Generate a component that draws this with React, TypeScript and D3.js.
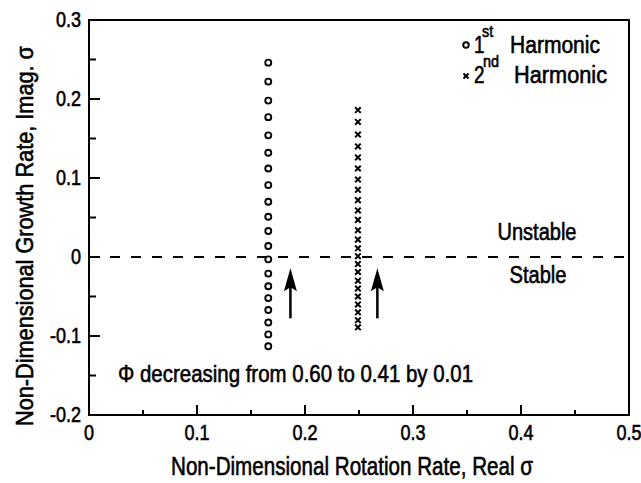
import React from 'react';
import * as d3 from 'd3';

// ---- data ----
const xTickValues = [0, 0.1, 0.2, 0.3, 0.4, 0.5];
const xTickLabels = ['0', '0.1', '0.2', '0.3', '0.4', '0.5'];
const xMinorTicks = [0.05, 0.15, 0.25, 0.35, 0.45];
const yTickValues = [0.3, 0.2, 0.1, 0, -0.1, -0.2];
const yTickLabels = ['0.3', '0.2', '0.1', '0', '-0.1', '-0.2'];
const yMinorTicks = [0.25, 0.15, 0.05, -0.05, -0.15];

const harmonic1Real = 0.166;
const harmonic1Imag = [
  0.246, 0.222, 0.198, 0.177, 0.154, 0.132, 0.112, 0.091, 0.07, 0.051,
  0.033, 0.014, -0.003, -0.021, -0.037, -0.052, -0.067, -0.083, -0.098, -0.113,
];
const harmonic2Real = 0.249;
const harmonic2Imag = [
  0.186, 0.171, 0.155, 0.14, 0.126, 0.112, 0.098, 0.085, 0.072, 0.059,
  0.047, 0.034, 0.022, 0.011, 0.001, -0.009, -0.019, -0.03, -0.04, -0.05,
  -0.06, -0.07, -0.08, -0.089,
];
const arrowReal = [0.1865, 0.267];
const arrowTail = -0.0776;
const arrowTip = -0.0143;

const legendLabels = ['1', 'st', 'Harmonic', '2', 'nd', 'Harmonic'];
const xTitle = 'Non-Dimensional Rotation Rate, Real \u03c3';
const yTitle = 'Non-Dimensional Growth Rate, Imag. \u03c3';
const note = '\u03a6 decreasing from 0.60 to 0.41 by 0.01';
const regionLabels = ['Unstable', 'Stable'];

const W = 641;
const H = 483;
const FONT = "'Liberation Sans', Arial, Helvetica, sans-serif";

export default function App() {
  const x = d3.scaleLinear().domain([0, 0.5]).range([89, 629]);
  const y = d3.scaleLinear().domain([-0.2, 0.3]).range([415, 20]);
  const textStyle = { fontFamily: FONT, fill: '#000', stroke: '#000', strokeWidth: 0.6 } as const;
  const sx = 0.82;

  const crossPath = (cx: number, cy: number, r: number) =>
    `M${cx - r},${cy - r}L${cx + r},${cy + r}M${cx - r},${cy + r}L${cx + r},${cy - r}`;

  return (
    <svg width={W} height={H} style={{ position: 'absolute', left: 0, top: 0, display: 'block', background: '#fff' }}>
      {/* frame */}
      <rect x={x(0)} y={y(0.3)} width={x(0.5) - x(0)} height={y(-0.2) - y(0.3)} fill="none" stroke="#000" strokeWidth={2} />

      {/* x ticks */}
      {xTickValues.map((v) => (
        <line key={'xt' + v} x1={x(v)} x2={x(v)} y1={y(-0.2)} y2={y(-0.2) - 10} stroke="#000" strokeWidth={2} />
      ))}
      {xMinorTicks.map((v) => (
        <line key={'xm' + v} x1={x(v)} x2={x(v)} y1={y(-0.2)} y2={y(-0.2) - 5} stroke="#000" strokeWidth={2} />
      ))}
      {xTickValues.map((v, i) => (
        <text key={'xl' + v} transform={`translate(${x(v)},440) scale(${sx},1)`} textAnchor="middle" fontSize={22} style={textStyle}>
          {xTickLabels[i]}
        </text>
      ))}

      {/* y ticks */}
      {yTickValues.map((v) => (
        <line key={'yt' + v} x1={x(0)} x2={x(0) + 11} y1={y(v)} y2={y(v)} stroke="#000" strokeWidth={2} />
      ))}
      {yMinorTicks.map((v) => (
        <line key={'ym' + v} x1={x(0)} x2={x(0) + 7} y1={y(v)} y2={y(v)} stroke="#000" strokeWidth={2} />
      ))}
      {yTickValues.map((v, i) => (
        <text key={'yl' + v} transform={`translate(81,${y(v) + 7}) scale(${sx},1)`} textAnchor="end" fontSize={22} style={textStyle}>
          {yTickLabels[i]}
        </text>
      ))}

      {/* axis titles */}
      <text x={352} y={475} textAnchor="middle" fontSize={26} textLength={362} lengthAdjust="spacingAndGlyphs" style={textStyle}>
        {xTitle}
      </text>
      <g transform={`translate(33,236) rotate(-90)`}>
        <text x={0} y={0} textAnchor="middle" fontSize={24} textLength={380} lengthAdjust="spacingAndGlyphs" style={textStyle}>
          {yTitle}
        </text>
      </g>

      {/* zero dashed line */}
      <line x1={x(0)} x2={x(0.5)} y1={y(0)} y2={y(0)} stroke="#000" strokeWidth={2.2} strokeDasharray="10 11" />

      {/* stability labels */}
      <text x={537} y={240} textAnchor="middle" fontSize={23.5} textLength={79} lengthAdjust="spacingAndGlyphs" style={textStyle}>
        {regionLabels[0]}
      </text>
      <text x={538} y={283} textAnchor="middle" fontSize={23.5} textLength={57} lengthAdjust="spacingAndGlyphs" style={textStyle}>
        {regionLabels[1]}
      </text>

      {/* 1st harmonic circles */}
      {harmonic1Imag.map((v, i) => (
        <circle key={'c' + i} cx={x(harmonic1Real)} cy={y(v)} r={3} fill="none" stroke="#000" strokeWidth={1.9} />
      ))}
      {/* 2nd harmonic crosses */}
      {harmonic2Imag.map((v, i) => (
        <path key={'x' + i} d={crossPath(x(harmonic2Real), y(v), 2.8)} fill="none" stroke="#000" strokeWidth={2} />
      ))}

      {/* arrows */}
      {arrowReal.map((v, i) => {
        const ax = x(v);
        const tip = y(arrowTip);
        const tail = y(arrowTail);
        return (
          <g key={'a' + i}>
            <line x1={ax} x2={ax} y1={tail} y2={tip + 18} stroke="#000" strokeWidth={2.5} />
            <path d={`M${ax},${tip}L${ax - 6.5},${tip + 23}L${ax},${tip + 19}L${ax + 6.5},${tip + 23}Z`} fill="#000" />
          </g>
        );
      })}

      {/* legend */}
      <circle cx={466} cy={45} r={2.8} fill="none" stroke="#000" strokeWidth={1.9} />
      <text transform={`translate(474,53) scale(${sx},1)`} fontSize={23} style={textStyle}>{legendLabels[0]}</text>
      <text transform={`translate(482,37) scale(0.85,1)`} fontSize={17} style={textStyle}>{legendLabels[1]}</text>
      <text x={510} y={53} fontSize={23.3} textLength={90} lengthAdjust="spacingAndGlyphs" style={textStyle}>{legendLabels[2]}</text>

      <path d={crossPath(466, 76, 2.5)} fill="none" stroke="#000" strokeWidth={2} />
      <text transform={`translate(474,83) scale(${sx},1)`} fontSize={23} style={textStyle}>{legendLabels[3]}</text>
      <text transform={`translate(483,67) scale(0.85,1)`} fontSize={17} style={textStyle}>{legendLabels[4]}</text>
      <text x={514} y={83} fontSize={23.3} textLength={93} lengthAdjust="spacingAndGlyphs" style={textStyle}>{legendLabels[5]}</text>

      {/* annotation */}
      <text x={118} y={382} fontSize={24} textLength={355} lengthAdjust="spacingAndGlyphs" style={textStyle}>
        {note}
      </text>
    </svg>
  );
}
